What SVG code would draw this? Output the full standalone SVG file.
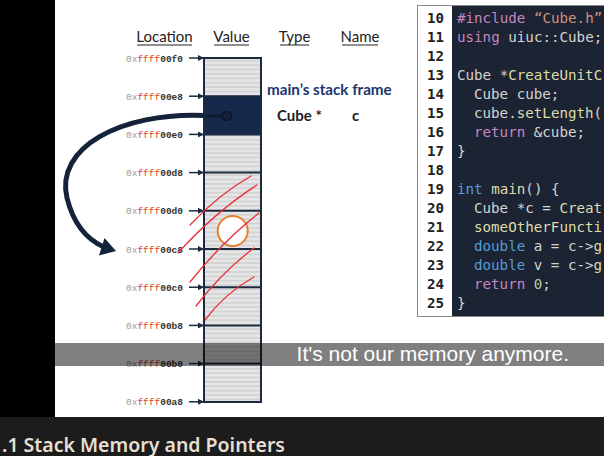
<svg xmlns="http://www.w3.org/2000/svg" width="604" height="456" viewBox="0 0 604 456">
<defs>
<pattern id="stripes" x="0" y="0" width="8" height="4.4" patternUnits="userSpaceOnUse">
<rect width="8" height="4.4" fill="#e6e6e6"/>
<rect y="2.6" width="8" height="1.8" fill="#d3d3d3"/>
</pattern>
<marker id="tick" viewBox="0 0 6 6" refX="6" refY="3" markerWidth="6" markerHeight="6" markerUnits="userSpaceOnUse" orient="auto">
<path d="M0,0 L6,3 L0,6 z" fill="#1b2a3f"/>
</marker>
<style>
.hdr{font-family:Lato,"Liberation Sans",sans-serif;font-size:15px;fill:#222}
.ul{stroke:#222;stroke-width:1}
.addr{font-family:"Liberation Mono","DejaVu Sans Mono",monospace;font-size:9.5px;text-anchor:end}
.g{fill:#9a9a9a}
.r{fill:#d9452b}
.d{fill:#333;font-weight:bold}
.tk{stroke:#1b2a3f;stroke-width:1.5;marker-end:url(#tick)}
.div{stroke:#1b2a3f;stroke-width:2}
.red{stroke:#e8303a;stroke-width:1.3;fill:none;stroke-linecap:round}
.ln{font-family:"DejaVu Sans Mono",monospace;font-size:14.2px;font-weight:bold;fill:#222;text-anchor:end}
.code{font-family:"DejaVu Sans Mono",monospace;font-size:14.2px;fill:#d4d4d4}
.kw{fill:#c586c0}
.str{fill:#ce9178}
.fn{fill:#dcdcaa}
.ty{fill:#569cd6}
.num{fill:#b5cea8}
.lbl{font-family:Lato,"Liberation Sans",sans-serif;font-weight:bold}
</style>
</defs>
<rect x="0" y="0" width="604" height="456" fill="#000"/>
<rect x="55" y="0" width="549" height="417" fill="#fff"/>
<rect x="0" y="417" width="604" height="39" fill="#1c1c1c"/>

<g id="headers">
<text class="hdr" x="164.5" y="42" text-anchor="middle">Location</text>
<line class="ul" x1="137" y1="45" x2="192" y2="45"/>
<text class="hdr" x="231.5" y="42" text-anchor="middle">Value</text>
<line class="ul" x1="214" y1="45" x2="249" y2="45"/>
<text class="hdr" x="294.5" y="42" text-anchor="middle">Type</text>
<line class="ul" x1="280" y1="45" x2="309" y2="45"/>
<text class="hdr" x="360" y="42" text-anchor="middle">Name</text>
<line class="ul" x1="342" y1="45" x2="378" y2="45"/>
</g>

<g id="memory-column">
<rect x="204" y="58" width="57" height="344" fill="url(#stripes)"/>
<rect id="cell-c" x="204" y="96.2" width="57" height="38.2" fill="#16294a"/>
<line class="div" x1="204" y1="96.2" x2="261" y2="96.2"/>
<line class="div" x1="204" y1="134.4" x2="261" y2="134.4"/>
<line class="div" x1="204" y1="172.6" x2="261" y2="172.6"/>
<line class="div" x1="204" y1="210.8" x2="261" y2="210.8"/>
<line class="div" x1="204" y1="249" x2="261" y2="249"/>
<line class="div" x1="204" y1="287.2" x2="261" y2="287.2"/>
<line class="div" x1="204" y1="325.4" x2="261" y2="325.4"/>
<line class="div" x1="204" y1="363.6" x2="261" y2="363.6"/>
<rect x="204" y="58" width="57" height="344" fill="none" stroke="#1b2a3f" stroke-width="2"/>
</g>

<g id="addresses">
<text class="addr" x="183" y="61.5"><tspan class="g">0x</tspan><tspan class="r">ffff</tspan><tspan class="d">00f0</tspan></text>
<text class="addr" x="183" y="99.7"><tspan class="g">0x</tspan><tspan class="r">ffff</tspan><tspan class="d">00e8</tspan></text>
<text class="addr" x="183" y="137.9"><tspan class="g">0x</tspan><tspan class="r">ffff</tspan><tspan class="d">00e0</tspan></text>
<text class="addr" x="183" y="176.1"><tspan class="g">0x</tspan><tspan class="r">ffff</tspan><tspan class="d">00d8</tspan></text>
<text class="addr" x="183" y="214.3"><tspan class="g">0x</tspan><tspan class="r">ffff</tspan><tspan class="d">00d0</tspan></text>
<text class="addr" x="183" y="252.5"><tspan class="g">0x</tspan><tspan class="r">ffff</tspan><tspan class="d">00c8</tspan></text>
<text class="addr" x="183" y="290.7"><tspan class="g">0x</tspan><tspan class="r">ffff</tspan><tspan class="d">00c0</tspan></text>
<text class="addr" x="183" y="328.9"><tspan class="g">0x</tspan><tspan class="r">ffff</tspan><tspan class="d">00b8</tspan></text>
<text class="addr" x="183" y="367.1"><tspan class="g">0x</tspan><tspan class="r">ffff</tspan><tspan class="d">00b0</tspan></text>
<text class="addr" x="183" y="405.3"><tspan class="g">0x</tspan><tspan class="r">ffff</tspan><tspan class="d">00a8</tspan></text>
</g>

<g id="connectors">
<line class="tk" x1="189" y1="58" x2="204" y2="58"/>
<line class="tk" x1="189" y1="96.2" x2="204" y2="96.2"/>
<line class="tk" x1="189" y1="134.4" x2="204" y2="134.4"/>
<line class="tk" x1="189" y1="172.6" x2="204" y2="172.6"/>
<line class="tk" x1="189" y1="210.8" x2="204" y2="210.8"/>
<line class="tk" x1="189" y1="249" x2="204" y2="249"/>
<line class="tk" x1="189" y1="287.2" x2="204" y2="287.2"/>
<line class="tk" x1="189" y1="325.4" x2="204" y2="325.4"/>
<line class="tk" x1="189" y1="363.6" x2="204" y2="363.6"/>
<line class="tk" x1="189" y1="401.8" x2="204" y2="401.8"/>
<line x1="204" y1="116" x2="223" y2="116" stroke="#0f1c30" stroke-width="3"/>
<path d="M205 115.5 C120 112 55 148 67 198 C74 226 88 240 104 247" fill="none" stroke="#15233a" stroke-width="5" stroke-linecap="round"/>
<path d="M116 251 L99 255.5 L104.5 238 z" fill="#15233a"/>
</g>

<g id="pointer-dot">
<circle cx="227" cy="116" r="4.5" fill="#13223c" stroke="#0c1526" stroke-width="1.5"/>
</g>

<g id="frame-label">
<text class="lbl" x="267" y="95" font-size="15.2" fill="#1a3570">main’s stack frame</text>
<text class="lbl" x="277" y="121" font-size="15" fill="#222">Cube *</text>
<text class="lbl" x="352" y="121" font-size="15" fill="#222">c</text>
</g>

<g id="scribbles">
<path class="red" d="M251 176 Q218 195 190 225"/>
<path class="red" d="M257 185 Q215 212 178 253"/>
<path class="red" d="M254 248 Q222 272 196 306"/>
<path class="red" d="M254 277 Q225 293 205 320"/>
</g>

<g id="freed-marker">
<circle cx="232.7" cy="231" r="15" fill="#fff" stroke="#e8802c" stroke-width="2"/>
<path class="red" d="M259 213 Q222 242 190 282"/>
</g>

<g id="code-panel">
<rect x="417.5" y="5.5" width="190" height="311" fill="#1c2333" stroke="#8a8a8a" stroke-width="1"/>
<rect x="418" y="6" width="34" height="310" fill="#fff"/>
<text class="ln" x="444" y="23.3">10</text>
<text class="ln" x="444" y="42.3">11</text>
<text class="ln" x="444" y="61.3">12</text>
<text class="ln" x="444" y="80.3">13</text>
<text class="ln" x="444" y="99.3">14</text>
<text class="ln" x="444" y="118.3">15</text>
<text class="ln" x="444" y="137.3">16</text>
<text class="ln" x="444" y="156.3">17</text>
<text class="ln" x="444" y="175.3">18</text>
<text class="ln" x="444" y="194.3">19</text>
<text class="ln" x="444" y="213.3">20</text>
<text class="ln" x="444" y="232.3">21</text>
<text class="ln" x="444" y="251.3">22</text>
<text class="ln" x="444" y="270.3">23</text>
<text class="ln" x="444" y="289.3">24</text>
<text class="ln" x="444" y="308.3">25</text>
<text class="code" x="457" y="23.3"><tspan class="kw">#include</tspan> <tspan class="str">“Cube.h”</tspan></text>
<text class="code" x="457" y="42.3"><tspan class="kw">using</tspan> uiuc::Cube;</text>
<text class="code" x="457" y="80.3">Cube *<tspan class="fn">CreateUnitC</tspan></text>
<text class="code" x="474" y="99.3">Cube cube;</text>
<text class="code" x="474" y="118.3">cube.<tspan class="fn">setLength</tspan>(</text>
<text class="code" x="474" y="137.3"><tspan class="kw">return</tspan> &amp;cube;</text>
<text class="code" x="457" y="156.3">}</text>
<text class="code" x="457" y="194.3"><tspan class="ty">int</tspan> <tspan class="fn">main</tspan>() {</text>
<text class="code" x="474" y="213.3">Cube *c = <tspan class="fn">Creat</tspan></text>
<text class="code" x="474" y="232.3"><tspan class="fn">someOtherFuncti</tspan></text>
<text class="code" x="474" y="251.3"><tspan class="ty">double</tspan> a = c-&gt;<tspan class="fn">g</tspan></text>
<text class="code" x="474" y="270.3"><tspan class="ty">double</tspan> v = c-&gt;<tspan class="fn">g</tspan></text>
<text class="code" x="474" y="289.3"><tspan class="kw">return</tspan> <tspan class="num">0</tspan>;</text>
<text class="code" x="457" y="308.3">}</text>
</g>

<g id="caption">
<rect x="55" y="343" width="549" height="23" fill="#000" opacity="0.5"/>
<text x="569" y="361" text-anchor="end" font-family="'Liberation Sans',Arial,sans-serif" font-size="21" fill="#fff">It's not our memory anymore.</text>
</g>

<g id="title">
<text x="2" y="451.5" font-family="'Noto Sans',sans-serif" font-size="19.5" font-weight="600" fill="#e6dfd2">.1 Stack Memory and Pointers</text>
</g>
</svg>
